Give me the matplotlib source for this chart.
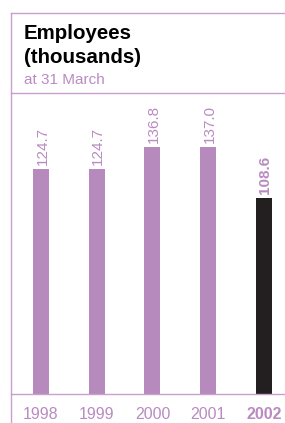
import matplotlib.pyplot as plt
from matplotlib.lines import Line2D

years = ["1998", "1999", "2000", "2001", "2002"]
employees = [124.7, 124.7, 136.8, 137.0, 108.6]
value_labels = ["124.7", "124.7", "136.8", "137.0", "108.6"]

purple = "#b78abd"
line_col = "#c99fd0"
text_purple = "#b98bc1"
dark = "#231f20"

W, H = 285, 423
fig = plt.figure(figsize=(W / 100, H / 100), dpi=100)
plt.rcParams['font.family'] = ['Liberation Sans', 'DejaVu Sans']

# axes: left edge at x=11px, baseline at y=394px, top at y=93px
ax = fig.add_axes([11 / W, 1 - 394 / H, 1 - 11 / W, (394 - 93) / H])

x = list(range(len(years)))
colors = [purple] * 4 + [dark]
ax.bar(x, employees, width=0.287, color=colors)

for i, (v, lab) in enumerate(zip(employees, value_labels)):
    last = i == len(years) - 1
    ax.annotate(lab, (i, v), xytext=(1, 3), textcoords="offset points",
                rotation=90, ha="center", va="bottom", fontsize=11,
                color=text_purple, fontweight="bold" if last else "normal")

ax.set_xlim(-0.538, 4.377)
ax.set_ylim(0, 166.9)
ax.set_yticks([])
ax.set_xticks(x)
ax.set_xticklabels(years, fontsize=11.5, color=text_purple)
ax.get_xticklabels()[-1].set_fontweight("bold")
ax.tick_params(axis="x", length=0, pad=9)
for s in ["top", "right", "left"]:
    ax.spines[s].set_visible(False)
ax.spines["bottom"].set_color(line_col)
ax.spines["bottom"].set_linewidth(1)

# frame lines
def fx(px):
    return px / W

def fy(py):
    return 1 - py / H

fig.add_artist(Line2D([fx(11), fx(11)], [fy(13), fy(423)], color=line_col, lw=1))
fig.add_artist(Line2D([fx(11), 1], [fy(13), fy(13)], color=line_col, lw=1))
fig.add_artist(Line2D([fx(11), 1], [fy(93), fy(93)], color=line_col, lw=1))

fig.text(fx(24), fy(39), "Employees", fontsize=14.8, fontweight="bold",
         color="black", va="baseline")
fig.text(fx(24), fy(63), "(thousands)", fontsize=14.8, fontweight="bold",
         color="black", va="baseline")
fig.text(fx(24), fy(84), "at 31 March", fontsize=11, color=text_purple,
         va="baseline")

fig.savefig("out.png", dpi=100)
